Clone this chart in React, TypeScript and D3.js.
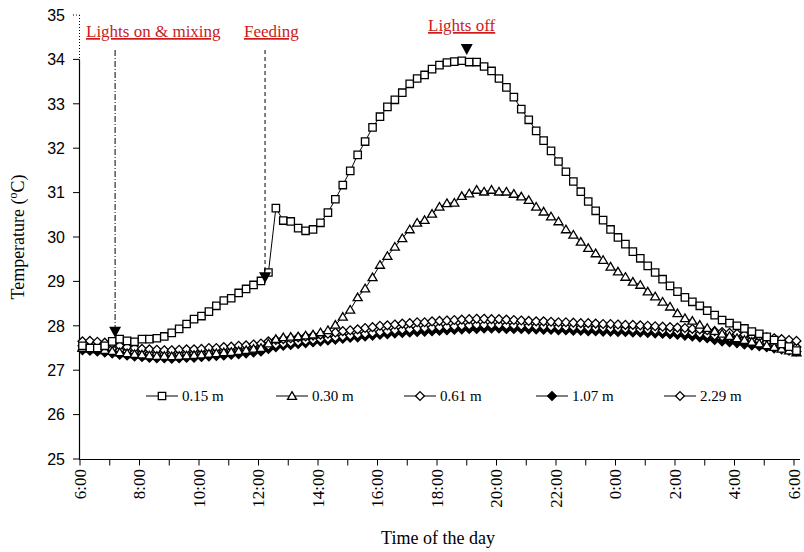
import React from "react";
import * as d3 from "d3";

// Sampling: every 15 min, first sample at 6:05 (hours after 6:00)
const START_H = 5 / 60;
const STEP_H = 0.25;

const T015 = [
  27.55, 27.5, 27.5, 27.55, 27.65,
  27.7, 27.66, 27.64, 27.7, 27.7, 27.72, 27.76, 27.84,
  27.93, 28.04, 28.15, 28.22, 28.32, 28.45, 28.57, 28.62,
  28.74, 28.83, 28.92, 29.01, 29.2,
  30.65, 30.37, 30.35, 30.2, 30.14, 30.17, 30.32, 30.55, 30.85, 31.17, 31.49, 31.85, 32.15,
  32.47, 32.71, 32.93, 33.09, 33.25, 33.45, 33.57, 33.65, 33.78, 33.87,
  33.93, 33.95, 33.97, 33.94, 33.94, 33.84, 33.74, 33.57, 33.37, 33.15, 32.88, 32.64, 32.39, 32.17, 31.94, 31.7, 31.47, 31.25, 31.02, 30.8, 30.59, 30.38, 30.17,
  29.99, 29.84, 29.67, 29.52, 29.35, 29.2, 29.05, 28.9, 28.77, 28.64, 28.54, 28.45, 28.34, 28.24, 28.13, 28.06, 28.0, 27.94, 27.87, 27.82, 27.75, 27.68, 27.59, 27.53, 27.44,
];

const T030 = [
  27.5, 27.48, 27.47, 27.45, 27.43,
  27.4, 27.38, 27.36, 27.35, 27.33, 27.32, 27.32, 27.31,
  27.32, 27.33, 27.34, 27.35, 27.37, 27.38, 27.4, 27.41,
  27.43, 27.45, 27.48, 27.5, 27.6, 27.7, 27.74, 27.75, 27.76, 27.78, 27.8, 27.85,
  27.9, 28.02, 28.2, 28.36, 28.64, 28.84, 29.09, 29.37, 29.57, 29.78,
  29.97, 30.17, 30.32, 30.38, 30.52, 30.68, 30.76, 30.77, 30.92, 30.98,
  31.06, 31.02, 31.06, 31.02, 31.02, 30.97, 30.91, 30.83, 30.68, 30.57,
  30.46, 30.35, 30.17, 30.05, 29.89, 29.75, 29.63, 29.48, 29.33, 29.22,
  29.1, 28.99, 28.92, 28.77, 28.66, 28.54, 28.43, 28.28, 28.17, 28.11,
  28.02, 27.95, 27.88, 27.82, 27.77, 27.72, 27.68, 27.64, 27.6, 27.56,
  27.52, 27.48, 27.44, 27.4,
];

const T061 = [
  27.65, 27.66, 27.64, 27.62, 27.6,
  27.55, 27.52, 27.5, 27.48, 27.47, 27.46, 27.45, 27.45,
  27.46, 27.47, 27.47, 27.48, 27.5, 27.5, 27.52, 27.53,
  27.55, 27.56, 27.58, 27.6, 27.65, 27.68, 27.7, 27.72,
  27.74, 27.76, 27.78, 27.8, 27.82, 27.85, 27.88, 27.9,
  27.92, 27.95, 27.97, 28.0, 28.01, 28.03, 28.05, 28.06,
  28.08, 28.08, 28.1, 28.11, 28.12, 28.13, 28.14, 28.15,
  28.16, 28.16, 28.15, 28.15, 28.14, 28.13, 28.12, 28.11,
  28.1, 28.1, 28.09, 28.08, 28.08, 28.07, 28.06, 28.06,
  28.05, 28.04, 28.04, 28.03, 28.02, 28.02, 28.01, 28.0,
  27.99, 27.98, 27.97, 27.96, 27.95, 27.93, 27.92, 27.9,
  27.88, 27.86, 27.84, 27.82, 27.8, 27.78, 27.76, 27.74, 27.72, 27.7, 27.68, 27.66,
];

const T107 = [
  27.45, 27.44, 27.42, 27.4, 27.38,
  27.35, 27.33, 27.31, 27.3, 27.28, 27.27, 27.27, 27.26,
  27.27, 27.28, 27.28, 27.3, 27.31, 27.32, 27.33, 27.35,
  27.36, 27.38, 27.4, 27.42, 27.48, 27.52, 27.55, 27.57,
  27.59, 27.61, 27.63, 27.65, 27.67, 27.69, 27.71, 27.73,
  27.74, 27.76, 27.78, 27.8, 27.81, 27.83, 27.84, 27.85,
  27.86, 27.87, 27.88, 27.89, 27.9, 27.91, 27.92, 27.93,
  27.93, 27.94, 27.94, 27.94, 27.93, 27.93, 27.93, 27.92,
  27.92, 27.91, 27.91, 27.9, 27.9, 27.89, 27.89, 27.88,
  27.88, 27.87, 27.87, 27.86, 27.86, 27.85, 27.85, 27.84,
  27.83, 27.82, 27.81, 27.8, 27.78, 27.76, 27.74, 27.72,
  27.68, 27.65, 27.63, 27.61, 27.58, 27.56, 27.54, 27.52,
  27.49, 27.47, 27.44, 27.42,
];

const T229 = [
  27.55, 27.54, 27.52, 27.5, 27.48,
  27.45, 27.42, 27.4, 27.38, 27.37, 27.36, 27.36, 27.35,
  27.36, 27.37, 27.38, 27.38, 27.4, 27.41, 27.42, 27.43,
  27.45, 27.46, 27.48, 27.5, 27.55, 27.58, 27.6, 27.62,
  27.64, 27.66, 27.68, 27.7, 27.72, 27.74, 27.76, 27.78,
  27.8, 27.82, 27.84, 27.86, 27.88, 27.9, 27.91, 27.92,
  27.94, 27.95, 27.96, 27.97, 27.98, 27.99, 28.0, 28.01,
  28.02, 28.02, 28.02, 28.02, 28.01, 28.01, 28.0, 28.0,
  27.99, 27.99, 27.98, 27.98, 27.97, 27.97, 27.96, 27.96,
  27.95, 27.95, 27.94, 27.94, 27.93, 27.92, 27.92, 27.91,
  27.9, 27.89, 27.88, 27.87, 27.86, 27.84, 27.82, 27.8,
  27.78, 27.76, 27.74, 27.72, 27.7, 27.68, 27.66, 27.63,
  27.6, 27.58, 27.55, 27.52,
];

const SERIES_NAMES = ["0.15 m", "0.30 m", "0.61 m", "1.07 m", "2.29 m"];
const SERIES_MARKERS = ["square", "triangle", "diamond", "diamondFilled", "diamond"];

const X_TICK_LABELS = ["6:00", "8:00", "10:00", "12:00", "14:00", "16:00", "18:00", "20:00", "22:00", "0:00", "2:00", "4:00", "6:00"];
const Y_TICKS = [25, 26, 27, 28, 29, 30, 31, 32, 33, 34, 35];

const EVENT_LABELS = ["Lights on & mixing", "Feeding", "Lights off"];
const EVENT_TIMES = [1.18, 6.22, 13.0]; // hours after 6:00
const EVENT_TIP_TEMPS = [27.73, 28.96, 34.1];

const W = 804;
const H = 552;

function markerPath(kind: string, x: number, y: number): string {
  if (kind === "square") {
    const s = 3.7;
    return `M${x - s},${y - s}H${x + s}V${y + s}H${x - s}Z`;
  }
  if (kind === "triangle") {
    return `M${x},${y - 4.3}L${x + 4.5},${y + 3.3}L${x - 4.5},${y + 3.3}Z`;
  }
  const s = 4.4;
  return `M${x},${y - s}L${x + s},${y}L${x},${y + s}L${x - s},${y}Z`;
}

export default function App() {
  const x = d3.scaleLinear().domain([0, 24]).range([80, 794]);
  const y = d3.scaleLinear().domain([25, 35]).range([459, 15]);

  const seriesAll = [T015, T030, T061, T107, T229];
  const drawOrder = [3, 4, 2, 1, 0];

  const line = d3
    .line<number>()
    .x((_, i) => x(START_H + i * STEP_H))
    .y((d) => y(d));

  const hourTicks = d3.range(0, 25);
  const serif = "'Liberation Serif', 'Times New Roman', serif";
  const sans = "'Liberation Sans', Arial, sans-serif";
  const red = "#cc1a1a";

  const legendMarkerX = [162, 292, 420, 552, 680];
  const legendY = 396;

  return (
    <svg width={W} height={H} viewBox={`0 0 ${W} ${H}`} style={{ display: "block", position: "absolute", left: 0, top: 0, background: "#fff" }}>
      <rect x={0} y={0} width={W} height={H} fill="#fff" />

      {/* Y axis */}
      <line x1={79.5} x2={79.5} y1={y(34)} y2={y(25)} stroke="#000" strokeWidth={1.2} />
      <line x1={79.5} x2={79.5} y1={y(35)} y2={y(34)} stroke="#000" strokeWidth={1} strokeDasharray="1,2" />
      {Y_TICKS.map((t) => (
        <g key={t}>
          <line x1={73} x2={79.5} y1={y(t)} y2={y(t)} stroke="#000" strokeWidth={1} strokeDasharray={t === 35 ? "1,2" : undefined} />
          <text x={65} y={y(t)} dy="0.36em" textAnchor="end" fontFamily={sans} fontSize={16} fill="#000">
            {t}
          </text>
        </g>
      ))}
      <text transform={`translate(24,${(y(25) + y(35)) / 2}) rotate(-90)`} textAnchor="middle" fontFamily={serif} fontSize={18} fill="#000">
        Temperature (<tspan fontSize={12} dy={-7}>o</tspan>
        <tspan dy={7}>C)</tspan>
      </text>

      {/* X axis */}
      <line x1={79} x2={800} y1={459.5} y2={459.5} stroke="#000" strokeWidth={1.2} />
      {hourTicks.map((h) => (
        <line key={h} x1={x(h)} x2={x(h)} y1={459.5} y2={465.5} stroke="#000" strokeWidth={1} />
      ))}
      {X_TICK_LABELS.map((lab, i) => (
        <text key={i} transform={`translate(${x(i * 2)},469) rotate(-90)`} dy="0.34em" textAnchor="end" fontFamily={serif} fontSize={17} fill="#000">
          {lab}
        </text>
      ))}
      <text x={(x(0) + x(24)) / 2 + 1} y={544} textAnchor="middle" fontFamily={serif} fontSize={18} fill="#000">
        Time of the day
      </text>

      {/* Series */}
      {drawOrder.map((si) => {
        const data = seriesAll[si];
        const kind = SERIES_MARKERS[si];
        return (
          <g key={si}>
            <path d={line(data) || ""} fill="none" stroke="#000" strokeWidth={1} />
            {data.map((v, i) => (
              <path
                key={i}
                d={markerPath(kind, x(START_H + i * STEP_H), y(v))}
                fill={kind === "diamondFilled" ? "#000" : "#fff"}
                stroke="#000"
                strokeWidth={1.3}
              />
            ))}
          </g>
        );
      })}

      {/* Legend */}
      {SERIES_NAMES.map((name, i) => {
        const mx = legendMarkerX[i];
        const kind = SERIES_MARKERS[i];
        return (
          <g key={name}>
            <line x1={mx - 16} x2={mx + 16} y1={legendY} y2={legendY} stroke="#000" strokeWidth={1} />
            <path d={markerPath(kind, mx, legendY)} fill={kind === "diamondFilled" ? "#000" : "#fff"} stroke="#000" strokeWidth={1.3} />
            <text x={mx + 20} y={legendY} dy="0.35em" fontFamily={serif} fontSize={15} fill="#000">
              {name}
            </text>
          </g>
        );
      })}

      {/* Event annotations */}
      {EVENT_TIMES.map((t, i) => {
        const ex = x(t);
        const tipY = y(EVENT_TIP_TEMPS[i]);
        const dash = i === 0 ? "6,2,1,2" : "4,3";
        return (
          <g key={i}>
            {i < 2 && <line x1={ex} x2={ex} y1={50} y2={tipY - 10} stroke="#000" strokeWidth={1} strokeDasharray={dash} />}
            <path d={`M${ex - 6},${tipY - 11}L${ex + 6},${tipY - 11}L${ex},${tipY}Z`} fill="#000" />
          </g>
        );
      })}
      <text x={86} y={37} fontFamily={serif} fontSize={17} fill={red} textDecoration="underline">
        {EVENT_LABELS[0]}
      </text>
      <text x={244} y={37} fontFamily={serif} fontSize={17} fill={red} textDecoration="underline">
        {EVENT_LABELS[1]}
      </text>
      <text x={428} y={31} fontFamily={serif} fontSize={17} fill={red} textDecoration="underline">
        {EVENT_LABELS[2]}
      </text>
    </svg>
  );
}
